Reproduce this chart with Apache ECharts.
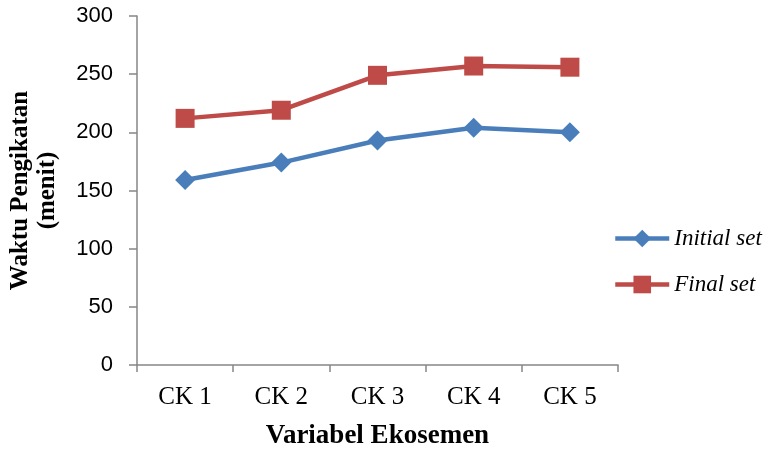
<!DOCTYPE html>
<html><head><meta charset="utf-8">
<script src="https://cdn.jsdelivr.net/npm/echarts@6/dist/echarts.min.js"></script>
<style>html,body{margin:0;padding:0;background:#fff}#c{width:779px;height:450px}</style>
</head><body><div id="c"></div>
<script>
const categories = ['CK 1', 'CK 2', 'CK 3', 'CK 4', 'CK 5'];
const initialSet = [159, 174, 193, 204, 200];
const finalSet = [212, 219, 249, 257, 256];
const yTicks = [0, 50, 100, 150, 200, 250, 300];

const chart = echarts.init(document.getElementById('c'));
const axisColor = '#868686';
chart.setOption({
  animation: false,
  backgroundColor: '#fff',
  grid: { left: 137, right: 161, top: 16, bottom: 85, containLabel: false, outerBoundsMode: 'none' },
  legend: {
    orient: 'vertical', left: 613, top: 227, padding: 0, itemWidth: 54, itemHeight: 22, itemGap: 23,
    lineStyle: { width: 4.5 },
    textStyle: { fontFamily: 'Liberation Serif', fontStyle: 'italic', fontSize: 23, color: '#000' },
    data: ['Initial set', 'Final set']
  },
  xAxis: {
    type: 'category', data: categories, boundaryGap: true,
    name: 'Variabel Ekosemen', nameLocation: 'middle', nameGap: 58,
    nameTextStyle: { fontFamily: 'Liberation Serif', fontWeight: 'bold', fontSize: 27, color: '#000' },
    axisLine: { lineStyle: { color: axisColor, width: 1.5 } },
    axisTick: { show: true, length: 7, lineStyle: { color: axisColor, width: 1.5 } },
    axisLabel: { fontFamily: 'Liberation Serif', fontSize: 25, color: '#000', margin: 20 }
  },
  yAxis: {
    type: 'value', min: yTicks[0], max: yTicks[yTicks.length - 1], interval: 50,
    name: 'Waktu Pengikatan\n(menit)', nameLocation: 'middle', nameGap: 76,
    nameTextStyle: { fontFamily: 'Liberation Serif', fontWeight: 'bold', fontSize: 25, color: '#000', lineHeight: 27 },
    axisLine: { show: true, lineStyle: { color: axisColor, width: 1.5 } },
    axisTick: { show: true, length: 8, lineStyle: { color: axisColor, width: 1.5 } },
    splitLine: { show: false },
    axisLabel: { fontFamily: 'Liberation Sans', fontSize: 22, color: '#000', margin: 24 }
  },
  series: [
    { name: 'Initial set', type: 'line', data: initialSet, symbol: 'diamond', symbolSize: 20,
      lineStyle: { color: '#4A7EBB', width: 4.5 }, itemStyle: { color: '#4A7EBB' } },
    { name: 'Final set', type: 'line', data: finalSet, symbol: 'rect', symbolSize: 19,
      lineStyle: { color: '#BE4B48', width: 4.5 }, itemStyle: { color: '#BE4B48' } }
  ]
});
</script></body></html>
